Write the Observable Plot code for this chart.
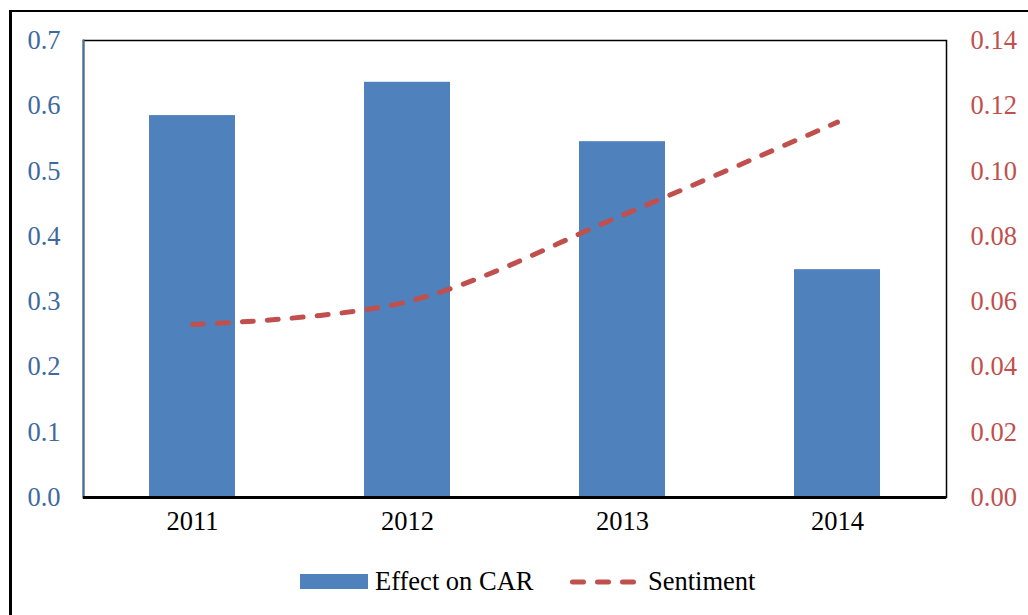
<!DOCTYPE html>
<html>
<head>
<meta charset="utf-8">
<script src="https://cdn.jsdelivr.net/npm/d3@7"></script>
<script src="https://cdn.jsdelivr.net/npm/@observablehq/plot@0.6"></script>
<style>
  html, body { margin: 0; padding: 0; background: #fff; overflow: hidden; width: 1028px; height: 615px; }
  #wrap { position: relative; width: 1028px; height: 615px; font-family: "Liberation Serif", "Times New Roman", serif; }
  #outer { position: absolute; left: 9px; top: 10px; width: 1100px; height: 700px; border-left: 3px solid #000; border-top: 2px solid #000; box-sizing: border-box; pointer-events: none; }
  #chart { position: absolute; left: 0; top: 0; }
  .leg { position: absolute; font-size: 26.5px; color: #000; line-height: 1; white-space: nowrap; }
</style>
</head>
<body>
<div id="wrap">
  <div id="outer"></div>
  <div id="chart"></div>
  <div class="leg" style="left:300px; top:574px; width:68px; height:15px; background:#4F81BD;"></div>
  <div class="leg" id="l1" style="left:375px; top:568px;">Effect on CAR</div>
  <svg class="leg" style="left:565px; top:572px;" width="76" height="20">
    <line x1="7.5" y1="10" x2="68.5" y2="10" stroke="#C0504D" stroke-width="5" stroke-linecap="round" stroke-dasharray="11,14"></line>
  </svg>
  <div class="leg" id="l2" style="left:648px; top:568px;">Sentiment</div>
</div>
<script>
const years = ["2011", "2012", "2013", "2014"];
const effectOnCAR = [0.585, 0.636, 0.545, 0.349];
const sentiment = [0.053, 0.060, 0.0865, 0.115];
const leftTicks = [0, 0.1, 0.2, 0.3, 0.4, 0.5, 0.6, 0.7];
const rightTicks = [0, 0.02, 0.04, 0.06, 0.08, 0.10, 0.12, 0.14];

const ratio = 0.7 / 0.14;
const bars = years.map((y, i) => ({year: y, v: effectOnCAR[i]}));
const line = years.map((y, i) => ({year: y, v: sentiment[i] * ratio}));

const chart = Plot.plot({
  width: 1028,
  height: 615,
  marginLeft: 83,
  marginRight: 82,
  marginTop: 40,
  marginBottom: 118,
  style: {fontFamily: "'Liberation Serif', 'Times New Roman', serif", fontSize: "26.5px", background: "transparent", overflow: "visible"},
  x: {domain: years, type: "band", paddingInner: 0.6, paddingOuter: 0.3, label: null},
  y: {domain: [0, 0.7], label: null},
  marks: [
    Plot.barY(bars, {x: "year", y: "v", fill: "#4F81BD"}),
    Plot.line(line, {x: "year", y: "v", stroke: "#C0504D", strokeWidth: 5, strokeDasharray: "11,14", strokeLinecap: "round", curve: "catmull-rom"}),
    Plot.frame({stroke: "#000", strokeWidth: 1.5}),
    Plot.frame({anchor: "left", stroke: "#4A6E9E", strokeWidth: 2}),
    Plot.ruleY([0], {stroke: "#000", strokeWidth: 3}),
    Plot.axisY({anchor: "left", ticks: leftTicks, tickSize: 0, tickPadding: 23, tickFormat: d => d.toFixed(1), fill: "#3D6A9E", label: null}),
    Plot.axisY({anchor: "right", ticks: rightTicks.map(v => v * ratio), tickSize: 0, tickPadding: 24, tickFormat: d => (d / ratio).toFixed(2), fill: "#C0504D", label: null}),
    Plot.axisX({tickSize: 0, tickPadding: 14, fill: "#000", label: null})
  ]
});
document.getElementById("chart").appendChild(chart);
</script>
</body>
</html>
